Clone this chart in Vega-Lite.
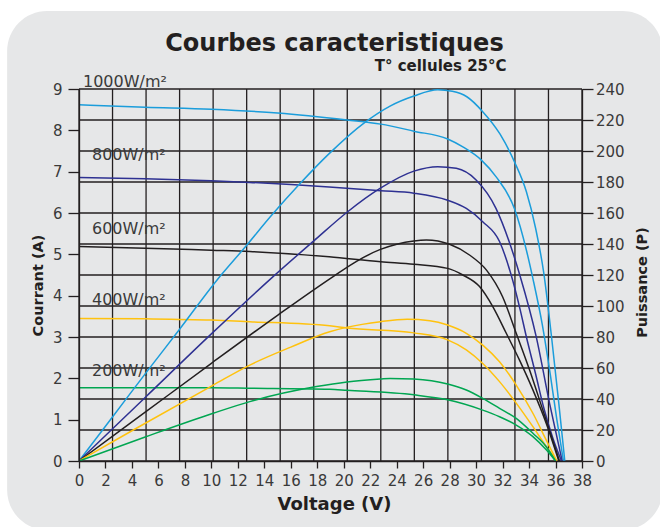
{
  "$schema": "https://vega.github.io/schema/vega-lite/v6.json",
  "width": 503,
  "height": 372,
  "autosize": {"type": "none"},
  "padding": {"left": 79, "top": 89, "right": 78, "bottom": 66},
  "background": "white",
  "config": {
    "view": {"stroke": null},
    "axis": {
      "grid": false,
      "domainColor": "#231f20", "tickColor": "#231f20", "domainWidth": 1.3, "tickWidth": 1.3,
      "labelColor": "#3a3a3a", "labelFont": "DejaVu Sans", "labelFontSize": 15,
      "titleFont": "DejaVu Sans", "titleFontWeight": "bold", "titleColor": "#231f20"
    },
    "text": {"font": "DejaVu Sans"}
  },
  "datasets": {
    "vgrid": [{"V": 0}, {"V": 2.5333}, {"V": 5.0667}, {"V": 7.6}, {"V": 10.1333}, {"V": 12.6667}, {"V": 15.2}, {"V": 17.7333}, {"V": 20.2667}, {"V": 22.8}, {"V": 25.3333}, {"V": 27.8667}, {"V": 30.4}, {"V": 32.9333}, {"V": 35.4667}, {"V": 38}],
    "hgrid": [{"P": 0}, {"P": 20}, {"P": 40}, {"P": 60}, {"P": 80}, {"P": 100}, {"P": 120}, {"P": 140}, {"P": 160}, {"P": 180}, {"P": 200}, {"P": 220}, {"P": 240}],
    "labels": [
      {"label": "1000W/m²", "V": 0.3, "I": 9.05},
      {"label": "800W/m²", "V": 0.98, "I": 7.28},
      {"label": "600W/m²", "V": 0.98, "I": 5.48},
      {"label": "400W/m²", "V": 0.98, "I": 3.77},
      {"label": "200W/m²", "V": 0.98, "I": 2.06}
    ],
    "curves": [
      {"irr": "1000", "kind": "I", "V": 0, "value": 8.62},
      {"irr": "1000", "kind": "I", "V": 5, "value": 8.56},
      {"irr": "1000", "kind": "I", "V": 10, "value": 8.51},
      {"irr": "1000", "kind": "I", "V": 15, "value": 8.42},
      {"irr": "1000", "kind": "I", "V": 20.25, "value": 8.25},
      {"irr": "1000", "kind": "I", "V": 22.8, "value": 8.15},
      {"irr": "1000", "kind": "I", "V": 25.3, "value": 7.98},
      {"irr": "1000", "kind": "I", "V": 27.85, "value": 7.79},
      {"irr": "1000", "kind": "I", "V": 29, "value": 7.6},
      {"irr": "1000", "kind": "I", "V": 30.4, "value": 7.28},
      {"irr": "1000", "kind": "I", "V": 31.5, "value": 6.88},
      {"irr": "1000", "kind": "I", "V": 32.9, "value": 6.1},
      {"irr": "1000", "kind": "I", "V": 33.8, "value": 5.1},
      {"irr": "1000", "kind": "I", "V": 34.3, "value": 4.4},
      {"irr": "1000", "kind": "I", "V": 35, "value": 3.3},
      {"irr": "1000", "kind": "I", "V": 35.6, "value": 2.1},
      {"irr": "1000", "kind": "I", "V": 36.1, "value": 1.0},
      {"irr": "1000", "kind": "I", "V": 36.6, "value": 0},
      {"irr": "1000", "kind": "P", "V": 0, "value": 0},
      {"irr": "1000", "kind": "P", "V": 2.53, "value": 28.4},
      {"irr": "1000", "kind": "P", "V": 5.07, "value": 57},
      {"irr": "1000", "kind": "P", "V": 7.6, "value": 85},
      {"irr": "1000", "kind": "P", "V": 10.4, "value": 116.5},
      {"irr": "1000", "kind": "P", "V": 12.65, "value": 139},
      {"irr": "1000", "kind": "P", "V": 14.5, "value": 158},
      {"irr": "1000", "kind": "P", "V": 16.7, "value": 179},
      {"irr": "1000", "kind": "P", "V": 18.8, "value": 197.5},
      {"irr": "1000", "kind": "P", "V": 21.6, "value": 218.5},
      {"irr": "1000", "kind": "P", "V": 23.5, "value": 229},
      {"irr": "1000", "kind": "P", "V": 25.3, "value": 235.5},
      {"irr": "1000", "kind": "P", "V": 27.1, "value": 239.5},
      {"irr": "1000", "kind": "P", "V": 28.2, "value": 238.5},
      {"irr": "1000", "kind": "P", "V": 29.3, "value": 235},
      {"irr": "1000", "kind": "P", "V": 30.5, "value": 225.4},
      {"irr": "1000", "kind": "P", "V": 31.8, "value": 211},
      {"irr": "1000", "kind": "P", "V": 32.9, "value": 193},
      {"irr": "1000", "kind": "P", "V": 33.8, "value": 173.7},
      {"irr": "1000", "kind": "P", "V": 34.5, "value": 150},
      {"irr": "1000", "kind": "P", "V": 35.1, "value": 122},
      {"irr": "1000", "kind": "P", "V": 35.7, "value": 80},
      {"irr": "1000", "kind": "P", "V": 36.25, "value": 37},
      {"irr": "1000", "kind": "P", "V": 36.7, "value": 0},
      {"irr": "800", "kind": "I", "V": 0, "value": 6.86},
      {"irr": "800", "kind": "I", "V": 5, "value": 6.83},
      {"irr": "800", "kind": "I", "V": 10, "value": 6.78},
      {"irr": "800", "kind": "I", "V": 12.9, "value": 6.74},
      {"irr": "800", "kind": "I", "V": 18.9, "value": 6.63},
      {"irr": "800", "kind": "I", "V": 22.8, "value": 6.54},
      {"irr": "800", "kind": "I", "V": 25.3, "value": 6.48},
      {"irr": "800", "kind": "I", "V": 27.85, "value": 6.31},
      {"irr": "800", "kind": "I", "V": 29.26, "value": 6.11},
      {"irr": "800", "kind": "I", "V": 30.5, "value": 5.79},
      {"irr": "800", "kind": "I", "V": 31.77, "value": 5.31},
      {"irr": "800", "kind": "I", "V": 32.65, "value": 4.5},
      {"irr": "800", "kind": "I", "V": 33.3, "value": 3.7},
      {"irr": "800", "kind": "I", "V": 33.8, "value": 3.0},
      {"irr": "800", "kind": "I", "V": 34.5, "value": 2.1},
      {"irr": "800", "kind": "I", "V": 35.1, "value": 1.3},
      {"irr": "800", "kind": "I", "V": 35.8, "value": 0.55},
      {"irr": "800", "kind": "I", "V": 36.45, "value": 0},
      {"irr": "800", "kind": "P", "V": 0, "value": 0},
      {"irr": "800", "kind": "P", "V": 5, "value": 41},
      {"irr": "800", "kind": "P", "V": 10, "value": 82},
      {"irr": "800", "kind": "P", "V": 14.54, "value": 118},
      {"irr": "800", "kind": "P", "V": 17.74, "value": 142},
      {"irr": "800", "kind": "P", "V": 20.25, "value": 160.5},
      {"irr": "800", "kind": "P", "V": 22.77, "value": 176},
      {"irr": "800", "kind": "P", "V": 25.3, "value": 187},
      {"irr": "800", "kind": "P", "V": 27.1, "value": 189.9},
      {"irr": "800", "kind": "P", "V": 28.5, "value": 188.8},
      {"irr": "800", "kind": "P", "V": 30, "value": 181.3},
      {"irr": "800", "kind": "P", "V": 31.5, "value": 163},
      {"irr": "800", "kind": "P", "V": 32.5, "value": 141.5},
      {"irr": "800", "kind": "P", "V": 33.3, "value": 120},
      {"irr": "800", "kind": "P", "V": 34.54, "value": 80.2},
      {"irr": "800", "kind": "P", "V": 35.55, "value": 37.2},
      {"irr": "800", "kind": "P", "V": 36.5, "value": 0},
      {"irr": "600", "kind": "I", "V": 0, "value": 5.19},
      {"irr": "600", "kind": "I", "V": 5, "value": 5.15},
      {"irr": "600", "kind": "I", "V": 10, "value": 5.1},
      {"irr": "600", "kind": "I", "V": 12.9, "value": 5.07},
      {"irr": "600", "kind": "I", "V": 18.9, "value": 4.94},
      {"irr": "600", "kind": "I", "V": 22.8, "value": 4.82},
      {"irr": "600", "kind": "I", "V": 25.3, "value": 4.76},
      {"irr": "600", "kind": "I", "V": 27.85, "value": 4.66},
      {"irr": "600", "kind": "I", "V": 29, "value": 4.5},
      {"irr": "600", "kind": "I", "V": 30.26, "value": 4.22},
      {"irr": "600", "kind": "I", "V": 31.27, "value": 3.73},
      {"irr": "600", "kind": "I", "V": 32.28, "value": 3.09},
      {"irr": "600", "kind": "I", "V": 33.28, "value": 2.44},
      {"irr": "600", "kind": "I", "V": 34.29, "value": 1.72},
      {"irr": "600", "kind": "I", "V": 35.3, "value": 0.91},
      {"irr": "600", "kind": "I", "V": 36.25, "value": 0},
      {"irr": "600", "kind": "P", "V": 0, "value": 0},
      {"irr": "600", "kind": "P", "V": 5, "value": 31.5},
      {"irr": "600", "kind": "P", "V": 10, "value": 63},
      {"irr": "600", "kind": "P", "V": 15, "value": 94},
      {"irr": "600", "kind": "P", "V": 19.2, "value": 119},
      {"irr": "600", "kind": "P", "V": 21, "value": 129},
      {"irr": "600", "kind": "P", "V": 22.77, "value": 136.5},
      {"irr": "600", "kind": "P", "V": 25.3, "value": 142},
      {"irr": "600", "kind": "P", "V": 26.24, "value": 142.6},
      {"irr": "600", "kind": "P", "V": 28, "value": 139.8},
      {"irr": "600", "kind": "P", "V": 29.5, "value": 132.9},
      {"irr": "600", "kind": "P", "V": 30.8, "value": 123},
      {"irr": "600", "kind": "P", "V": 32, "value": 106},
      {"irr": "600", "kind": "P", "V": 33.03, "value": 82.4},
      {"irr": "600", "kind": "P", "V": 34.04, "value": 58.7},
      {"irr": "600", "kind": "P", "V": 35.04, "value": 32.9},
      {"irr": "600", "kind": "P", "V": 36.3, "value": 0},
      {"irr": "400", "kind": "I", "V": 0, "value": 3.45},
      {"irr": "400", "kind": "I", "V": 5, "value": 3.44},
      {"irr": "400", "kind": "I", "V": 10, "value": 3.41},
      {"irr": "400", "kind": "I", "V": 12.9, "value": 3.37},
      {"irr": "400", "kind": "I", "V": 18.94, "value": 3.27},
      {"irr": "400", "kind": "I", "V": 20.25, "value": 3.22},
      {"irr": "400", "kind": "I", "V": 25.3, "value": 3.1},
      {"irr": "400", "kind": "I", "V": 27.85, "value": 2.93},
      {"irr": "400", "kind": "I", "V": 29.26, "value": 2.69},
      {"irr": "400", "kind": "I", "V": 30.5, "value": 2.36},
      {"irr": "400", "kind": "I", "V": 31.77, "value": 1.92},
      {"irr": "400", "kind": "I", "V": 33.03, "value": 1.4},
      {"irr": "400", "kind": "I", "V": 34.29, "value": 0.83},
      {"irr": "400", "kind": "I", "V": 35.3, "value": 0.35},
      {"irr": "400", "kind": "I", "V": 36.1, "value": 0},
      {"irr": "400", "kind": "P", "V": 0, "value": 0},
      {"irr": "400", "kind": "P", "V": 4.1, "value": 20},
      {"irr": "400", "kind": "P", "V": 10.14, "value": 49},
      {"irr": "400", "kind": "P", "V": 12.9, "value": 61.9},
      {"irr": "400", "kind": "P", "V": 16, "value": 73.5},
      {"irr": "400", "kind": "P", "V": 18.94, "value": 83.4},
      {"irr": "400", "kind": "P", "V": 20.2, "value": 86.2},
      {"irr": "400", "kind": "P", "V": 22.77, "value": 89.9},
      {"irr": "400", "kind": "P", "V": 24.8, "value": 91.4},
      {"irr": "400", "kind": "P", "V": 26.5, "value": 90.5},
      {"irr": "400", "kind": "P", "V": 27.85, "value": 87.7},
      {"irr": "400", "kind": "P", "V": 29.26, "value": 82.4},
      {"irr": "400", "kind": "P", "V": 30.5, "value": 74.8},
      {"irr": "400", "kind": "P", "V": 31.77, "value": 64},
      {"irr": "400", "kind": "P", "V": 33.03, "value": 49},
      {"irr": "400", "kind": "P", "V": 34.29, "value": 30.8},
      {"irr": "400", "kind": "P", "V": 35.3, "value": 13.5},
      {"irr": "400", "kind": "P", "V": 36.1, "value": 0},
      {"irr": "200", "kind": "I", "V": 0, "value": 1.77},
      {"irr": "200", "kind": "I", "V": 10, "value": 1.77},
      {"irr": "200", "kind": "I", "V": 12.9, "value": 1.76},
      {"irr": "200", "kind": "I", "V": 18.94, "value": 1.735},
      {"irr": "200", "kind": "I", "V": 20.25, "value": 1.71},
      {"irr": "200", "kind": "I", "V": 25.3, "value": 1.6},
      {"irr": "200", "kind": "I", "V": 27.85, "value": 1.48},
      {"irr": "200", "kind": "I", "V": 30.5, "value": 1.23},
      {"irr": "200", "kind": "I", "V": 31.77, "value": 1.07},
      {"irr": "200", "kind": "I", "V": 33.03, "value": 0.87},
      {"irr": "200", "kind": "I", "V": 34.29, "value": 0.59},
      {"irr": "200", "kind": "I", "V": 35.3, "value": 0.27},
      {"irr": "200", "kind": "I", "V": 36, "value": 0},
      {"irr": "200", "kind": "P", "V": 0, "value": 0},
      {"irr": "200", "kind": "P", "V": 5, "value": 15.5},
      {"irr": "200", "kind": "P", "V": 10.14, "value": 30.8},
      {"irr": "200", "kind": "P", "V": 12.9, "value": 38.3},
      {"irr": "200", "kind": "P", "V": 17.94, "value": 48},
      {"irr": "200", "kind": "P", "V": 20.25, "value": 51},
      {"irr": "200", "kind": "P", "V": 22.77, "value": 52.9},
      {"irr": "200", "kind": "P", "V": 23.5, "value": 53.3},
      {"irr": "200", "kind": "P", "V": 25.3, "value": 52.9},
      {"irr": "200", "kind": "P", "V": 27.85, "value": 49.7},
      {"irr": "200", "kind": "P", "V": 29.26, "value": 45.8},
      {"irr": "200", "kind": "P", "V": 30.5, "value": 40.4},
      {"irr": "200", "kind": "P", "V": 31.77, "value": 34},
      {"irr": "200", "kind": "P", "V": 33.03, "value": 27.5},
      {"irr": "200", "kind": "P", "V": 34.29, "value": 17.9},
      {"irr": "200", "kind": "P", "V": 35.3, "value": 9.2},
      {"irr": "200", "kind": "P", "V": 36, "value": 0}
    ]
  },
  "resolve": {"scale": {"y": "independent"}},
  "layer": [
    {
      "layer": [
        {
          "data": {"values": [{}]},
          "mark": {"type": "rect", "color": "#e6e7e8", "cornerRadius": 40},
          "encoding": {
            "x": {"datum": -5.43, "type": "quantitative", "scale": {"domain": [0, 38], "nice": false, "zero": false},
              "axis": {"title": "Voltage (V)", "values": [0, 2, 4, 6, 8, 10, 12, 14, 16, 18, 20, 22, 24, 26, 28, 30, 32, 34, 36, 38],
                "tickSize": 7, "labelPadding": 5, "labelFlush": false, "labelOverlap": false, "zindex": 1,
                "titleFontSize": 18, "titleX": 255, "titleY": 34}},
            "x2": {"datum": 44.08},
            "y": {"datum": -1.67, "type": "quantitative", "scale": {"domain": [0, 9], "nice": false, "zero": false},
              "axis": {"orient": "left", "title": "Courrant (A)", "values": [0, 1, 2, 3, 4, 5, 6, 7, 8, 9],
                "tickSize": 11, "labelPadding": 6, "labelFlush": false, "labelOverlap": false, "zindex": 1,
                "titleFontSize": 14.5, "titleAngle": 270, "titleBaseline": "bottom", "titleAlign": "center", "titleX": -34, "titleY": 196}},
            "y2": {"datum": 10.89}
          }
        },
        {
          "data": {"name": "vgrid"},
          "mark": {"type": "rule", "color": "#231f20", "strokeWidth": 1.3},
          "encoding": {"x": {"field": "V", "type": "quantitative", "scale": {"domain": [0, 38], "nice": false, "zero": false},
              "axis": {"title": "Voltage (V)", "values": [0, 2, 4, 6, 8, 10, 12, 14, 16, 18, 20, 22, 24, 26, 28, 30, 32, 34, 36, 38],
                "tickSize": 7, "labelPadding": 5, "labelFlush": false, "labelOverlap": false, "zindex": 1,
                "titleFontSize": 18, "titleX": 255, "titleY": 34}}}
        },
        {
          "data": {"name": "hgrid"},
          "transform": [{"calculate": "datum.P * 9 / 240", "as": "I"}],
          "mark": {"type": "rule", "color": "#231f20", "strokeWidth": 1.3},
          "encoding": {"y": {"field": "I", "type": "quantitative", "scale": {"domain": [0, 9], "nice": false, "zero": false},
              "axis": {"orient": "left", "title": "Courrant (A)", "values": [0, 1, 2, 3, 4, 5, 6, 7, 8, 9],
                "tickSize": 11, "labelPadding": 6, "labelFlush": false, "labelOverlap": false, "zindex": 1,
                "titleFontSize": 14.5, "titleAngle": 270, "titleBaseline": "bottom", "titleAlign": "center", "titleX": -34, "titleY": 196}}}
        },
        {
          "data": {"name": "curves"},
          "transform": [{"filter": "datum.kind === 'I'"}],
          "mark": {"type": "line", "strokeWidth": 1.5, "interpolate": "monotone"},
          "encoding": {
            "x": {"field": "V", "type": "quantitative", "scale": {"domain": [0, 38], "nice": false, "zero": false},
              "axis": {"title": "Voltage (V)", "values": [0, 2, 4, 6, 8, 10, 12, 14, 16, 18, 20, 22, 24, 26, 28, 30, 32, 34, 36, 38],
                "tickSize": 7, "labelPadding": 5, "labelFlush": false, "labelOverlap": false, "zindex": 1,
                "titleFontSize": 18, "titleX": 255, "titleY": 34}},
            "y": {"field": "value", "type": "quantitative", "scale": {"domain": [0, 9], "nice": false, "zero": false},
              "axis": {"orient": "left", "title": "Courrant (A)", "values": [0, 1, 2, 3, 4, 5, 6, 7, 8, 9],
                "tickSize": 11, "labelPadding": 6, "labelFlush": false, "labelOverlap": false, "zindex": 1,
                "titleFontSize": 14.5, "titleAngle": 270, "titleBaseline": "bottom", "titleAlign": "center", "titleX": -34, "titleY": 196}},
            "color": {"field": "irr", "type": "nominal", "legend": null,
              "scale": {"domain": ["1000", "800", "600", "400", "200"], "range": ["#1b9ddb", "#2e3192", "#231f20", "#ffc20e", "#00a651"]}}
          }
        },
        {
          "data": {"name": "labels"},
          "mark": {"type": "text", "align": "left", "baseline": "alphabetic", "fontSize": 16, "color": "#3a3a3a"},
          "encoding": {
            "x": {"field": "V", "type": "quantitative", "scale": {"domain": [0, 38], "nice": false, "zero": false},
              "axis": {"title": "Voltage (V)", "values": [0, 2, 4, 6, 8, 10, 12, 14, 16, 18, 20, 22, 24, 26, 28, 30, 32, 34, 36, 38],
                "tickSize": 7, "labelPadding": 5, "labelFlush": false, "labelOverlap": false, "zindex": 1,
                "titleFontSize": 18, "titleX": 255, "titleY": 34}},
            "y": {"field": "I", "type": "quantitative", "scale": {"domain": [0, 9], "nice": false, "zero": false},
              "axis": {"orient": "left", "title": "Courrant (A)", "values": [0, 1, 2, 3, 4, 5, 6, 7, 8, 9],
                "tickSize": 11, "labelPadding": 6, "labelFlush": false, "labelOverlap": false, "zindex": 1,
                "titleFontSize": 14.5, "titleAngle": 270, "titleBaseline": "bottom", "titleAlign": "center", "titleX": -34, "titleY": 196}},
            "text": {"field": "label"}
          }
        },
        {
          "data": {"values": [{}]},
          "mark": {"type": "text", "align": "center", "baseline": "alphabetic", "fontSize": 24, "fontWeight": "bold", "color": "#231f20", "text": "Courbes caracteristiques"},
          "encoding": {
            "x": {"datum": 19.3, "type": "quantitative", "scale": {"domain": [0, 38], "nice": false, "zero": false},
              "axis": {"title": "Voltage (V)", "values": [0, 2, 4, 6, 8, 10, 12, 14, 16, 18, 20, 22, 24, 26, 28, 30, 32, 34, 36, 38],
                "tickSize": 7, "labelPadding": 5, "labelFlush": false, "labelOverlap": false, "zindex": 1,
                "titleFontSize": 18, "titleX": 255, "titleY": 34}},
            "y": {"datum": 9.91, "type": "quantitative", "scale": {"domain": [0, 9], "nice": false, "zero": false},
              "axis": {"orient": "left", "title": "Courrant (A)", "values": [0, 1, 2, 3, 4, 5, 6, 7, 8, 9],
                "tickSize": 11, "labelPadding": 6, "labelFlush": false, "labelOverlap": false, "zindex": 1,
                "titleFontSize": 14.5, "titleAngle": 270, "titleBaseline": "bottom", "titleAlign": "center", "titleX": -34, "titleY": 196}}
          }
        },
        {
          "data": {"values": [{}]},
          "mark": {"type": "text", "align": "right", "baseline": "alphabetic", "fontSize": 15, "fontWeight": "bold", "color": "#231f20", "text": "T° cellules 25°C"},
          "encoding": {
            "x": {"datum": 32.3, "type": "quantitative", "scale": {"domain": [0, 38], "nice": false, "zero": false},
              "axis": {"title": "Voltage (V)", "values": [0, 2, 4, 6, 8, 10, 12, 14, 16, 18, 20, 22, 24, 26, 28, 30, 32, 34, 36, 38],
                "tickSize": 7, "labelPadding": 5, "labelFlush": false, "labelOverlap": false, "zindex": 1,
                "titleFontSize": 18, "titleX": 255, "titleY": 34}},
            "y": {"datum": 9.43, "type": "quantitative", "scale": {"domain": [0, 9], "nice": false, "zero": false},
              "axis": {"orient": "left", "title": "Courrant (A)", "values": [0, 1, 2, 3, 4, 5, 6, 7, 8, 9],
                "tickSize": 11, "labelPadding": 6, "labelFlush": false, "labelOverlap": false, "zindex": 1,
                "titleFontSize": 14.5, "titleAngle": 270, "titleBaseline": "bottom", "titleAlign": "center", "titleX": -34, "titleY": 196}}
          }
        }
      ]
    },
    {
      "data": {"name": "curves"},
      "transform": [{"filter": "datum.kind === 'P'"}],
      "mark": {"type": "line", "strokeWidth": 1.5, "interpolate": "monotone"},
      "encoding": {
        "x": {"field": "V", "type": "quantitative", "scale": {"domain": [0, 38], "nice": false, "zero": false},
          "axis": {"title": "Voltage (V)", "values": [0, 2, 4, 6, 8, 10, 12, 14, 16, 18, 20, 22, 24, 26, 28, 30, 32, 34, 36, 38],
            "tickSize": 7, "labelPadding": 5, "labelFlush": false, "labelOverlap": false, "zindex": 1,
            "titleFontSize": 18, "titleX": 255, "titleY": 34}},
        "y": {"field": "value", "type": "quantitative", "scale": {"domain": [0, 240], "nice": false, "zero": false},
          "axis": {"orient": "right", "title": "Puissance (P)", "values": [0, 20, 40, 60, 80, 100, 120, 140, 160, 180, 200, 220, 240],
            "tickSize": 11, "labelPadding": 2.5, "labelFlush": false, "labelOverlap": false, "zindex": 1,
            "titleFontSize": 14.5, "titleAngle": 270, "titleBaseline": "bottom", "titleAlign": "center", "titleX": 67, "titleY": 193}},
        "color": {"field": "irr", "type": "nominal", "legend": null,
          "scale": {"domain": ["1000", "800", "600", "400", "200"], "range": ["#1b9ddb", "#2e3192", "#231f20", "#ffc20e", "#00a651"]}}
      }
    }
  ]
}
